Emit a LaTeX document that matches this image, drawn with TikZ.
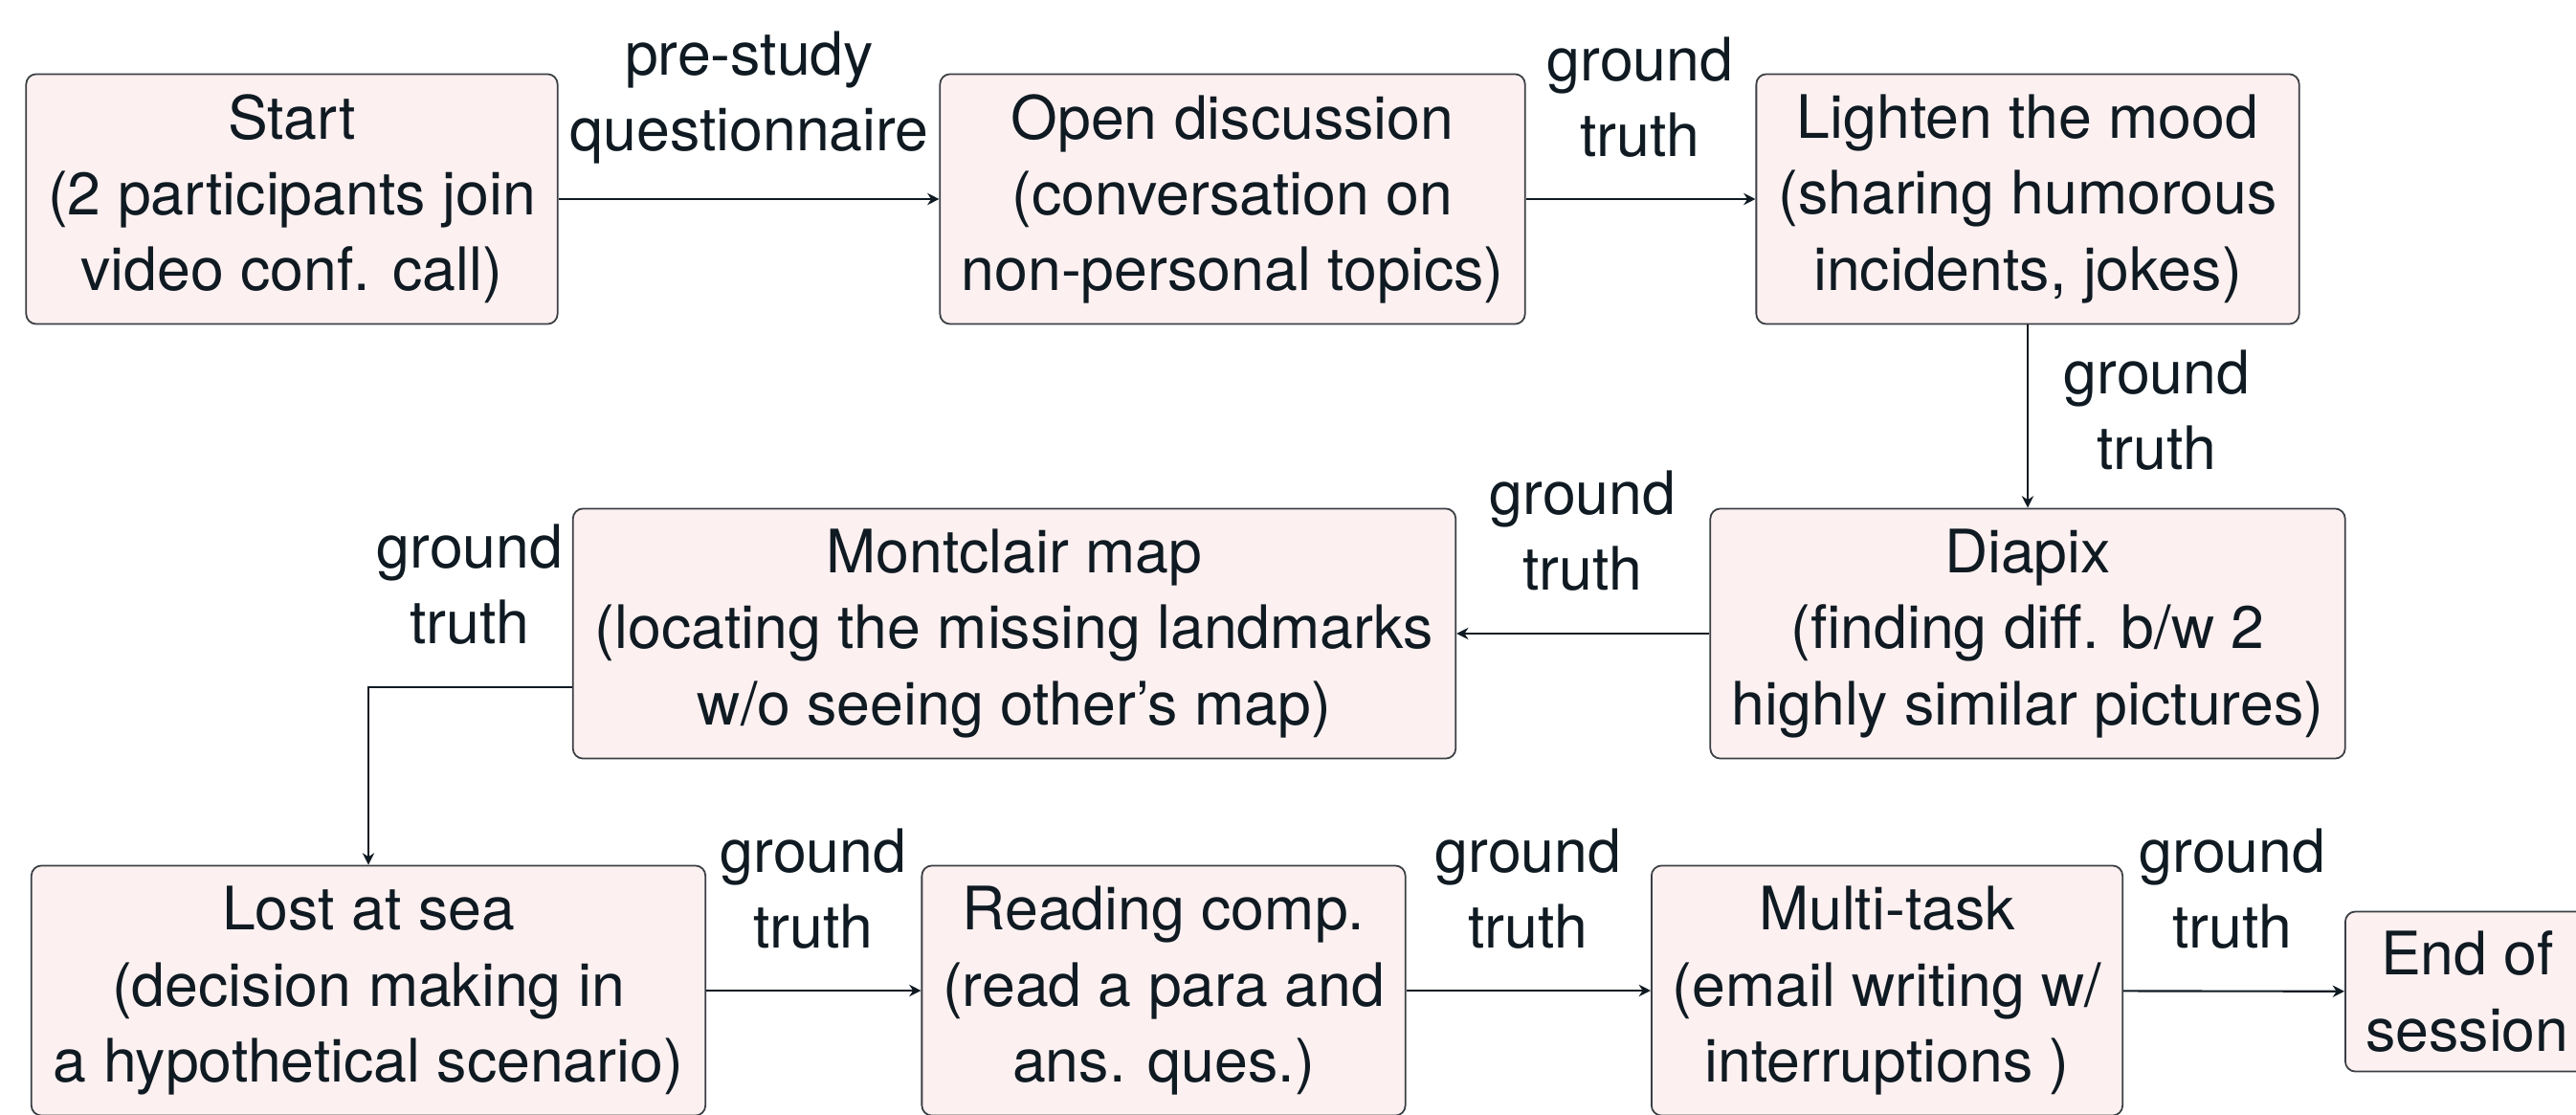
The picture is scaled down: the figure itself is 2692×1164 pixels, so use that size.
\documentclass[tikz,border=0pt]{standalone}
\usepackage{fontspec}
\setmainfont{TeX Gyre Heros}
\usetikzlibrary{calc}
\usetikzlibrary{positioning}
\usetikzlibrary{arrows.meta}
\definecolor{boxFill}{HTML}{FDF0F0}
\definecolor{boxLine}{HTML}{3A3F44}
\definecolor{inkColor}{HTML}{0F1A22}
\newcommand{\boxH}{2.61cm}
\newcommand{\flowFont}{\fontsize{17.8}{22.5}\selectfont}
\tikzset{stepbox/.style = {draw=boxLine, fill=boxFill, rounded corners=3pt, line width=0.5pt,
        minimum height=\boxH, inner sep=0pt, align=center, text=inkColor, font=\flowFont}}
\tikzset{flowlabel/.style = {align=center, text=inkColor, font=\flowFont}}
\tikzset{flow/.style = {draw=inkColor, line width=0.6pt, -{Stealth[length=3.5pt,width=3.5pt]}}}

\begin{document}
\begin{tikzpicture}[x=0.01cm, y=-0.01cm]
    \useasboundingbox (0,0) rectangle (2692,1164);

    % first row
    \node[stepbox, minimum width=5.55cm] (start) at (305,208) {Start\\(2 participants join\\video conf. call)};
    \node[stepbox, minimum width=6.11cm] (open) at (1288,208) {Open discussion\\(conversation on\\non-personal topics)};
    \node[stepbox, minimum width=5.67cm] (mood) at (2119,208) {Lighten the mood\\(sharing humorous\\incidents, jokes)};

    % second row
    \node[stepbox, minimum width=6.63cm] (diapix) at (2119,662) {Diapix\\(finding diff. b/w 2\\highly similar pictures)};
    \node[stepbox, minimum width=9.22cm] (map) at (1060,662) {Montclair map\\(locating the missing landmarks\\w/o seeing other's map)};

    % third row
    \node[stepbox, minimum width=7.04cm] (sea) at (385,1035) {Lost at sea\\(decision making in\\a hypothetical scenario)};
    \node[stepbox, minimum width=5.05cm] (read) at (1216,1035) {Reading comp.\\(read a para and\\ans. ques.)};
    \node[stepbox, minimum width=4.92cm] (multi) at (1972,1035) {Multi-task\\(email writing w/\\interruptions )};
    \node[stepbox, minimum width=2.55cm, minimum height=1.67cm, anchor=west] (finish) at (2450,1036) {End of\\session};

    \foreach \p/\q in {start/open, open/mood, mood/diapix, diapix/map,
            sea/read, read/multi, multi/finish}
    {
        \draw[flow] (\p) -- (\q);
    }
    \draw[flow] ($(map.west)+(0,56)$) -| (sea.north);

    % labels on the connectors
    \node[flowlabel] (preLbl) at (783,102) {pre-study\\questionnaire};
    \foreach \n/\x/\y in {gtA/1714/102, gtB/2254/429, gtC/1654/555, gtD/491/611,
            gtE/850/929, gtF/1597/929, gtG/2333/929}
    {
        \node[flowlabel] (\n) at (\x,\y) {ground\\truth};
    }
\end{tikzpicture}
\end{document}
